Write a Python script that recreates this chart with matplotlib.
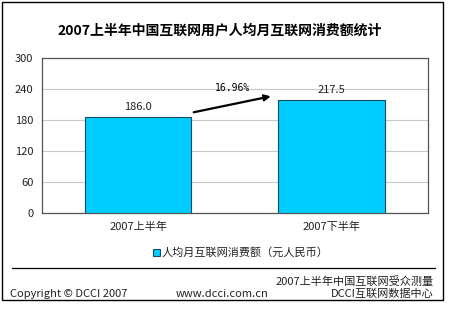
import matplotlib.pyplot as plt
from matplotlib.patches import Rectangle

plt.rcParams['font.family'] = ['Noto Sans CJK SC', 'DejaVu Sans']

categories = ['2007上半年', '2007下半年']
values = [186.0, 217.5]
growth = '16.96%'
series_name = '人均月互联网消费额（元人民币）'
yticks = [0, 60, 120, 180, 240, 300]

fig = plt.figure(figsize=(4.49, 3.25), dpi=100)
W, H = 449, 325

# outer frame
fig.patches.append(Rectangle((2 / W, 1 - 300 / H), 441 / W, 298 / H, transform=fig.transFigure,
                             fill=False, edgecolor='black', linewidth=1.0))

ax = fig.add_axes([41.7 / W, 1 - 213 / H, (428 - 41.7) / W, (213 - 57.7) / H])
x = range(len(categories))
ax.bar(x, values, width=0.55, color='#00CCFF', edgecolor='#1a4a60', linewidth=0.8, zorder=3)
ax.set_xlim(-0.5, 1.5)
ax.set_ylim(0, 300)
ax.set_yticks(yticks)
ax.set_xticks(list(x))
ax.set_xticklabels(categories, fontsize=8)
ax.tick_params(axis='both', length=0, labelsize=8, colors='#222222', pad=6)
ax.yaxis.grid(True, color='#c8c8c8', linewidth=0.8, zorder=0)
for s in ax.spines.values():
    s.set_color('#555555')
    s.set_linewidth(0.9)

for i, v in enumerate(values):
    ax.text(i, v + 10, f'{v:.1f}', ha='center', va='bottom', fontsize=8, color='#222222')

ax.annotate('', xy=(0.70, 226.5), xytext=(0.273, 193.5),
            arrowprops=dict(arrowstyle='-|>', color='black', lw=1.6, mutation_scale=9))
ax.text(0.49, 242, growth, ha='center', va='center', fontsize=7, family='DejaVu Sans Mono')

fig.text(0.49, 1 - 30 / H, '2007上半年中国互联网用户人均月互联网消费额统计', ha='center', va='center',
         fontsize=10, fontweight='bold')

# legend
fig.patches.append(Rectangle((153 / W, 1 - 256 / H), 7 / W, 7 / H, transform=fig.transFigure,
                             facecolor='#00CCFF', edgecolor='#1a4a60', linewidth=0.8))
fig.text(162 / W, 1 - 252 / H, series_name, ha='left', va='center', fontsize=8, color='#222222')

fig.add_artist(plt.Line2D([12 / W, 435 / W], [1 - 268 / H, 1 - 268 / H], color='black', linewidth=0.9))

fig.text(434 / W, 1 - 281 / H, '2007上半年中国互联网受众测量', ha='right', va='center', fontsize=8, color='#222222')
fig.text(10 / W, 1 - 294 / H, 'Copyright © DCCI 2007', ha='left', va='center', fontsize=8, color='#222222')
fig.text(222 / W, 1 - 294 / H, 'www.dcci.com.cn', ha='center', va='center', fontsize=8, color='#222222')
fig.text(434 / W, 1 - 294 / H, 'DCCI互联网数据中心', ha='right', va='center', fontsize=8, color='#222222')

fig.savefig('out.png', dpi=100)
